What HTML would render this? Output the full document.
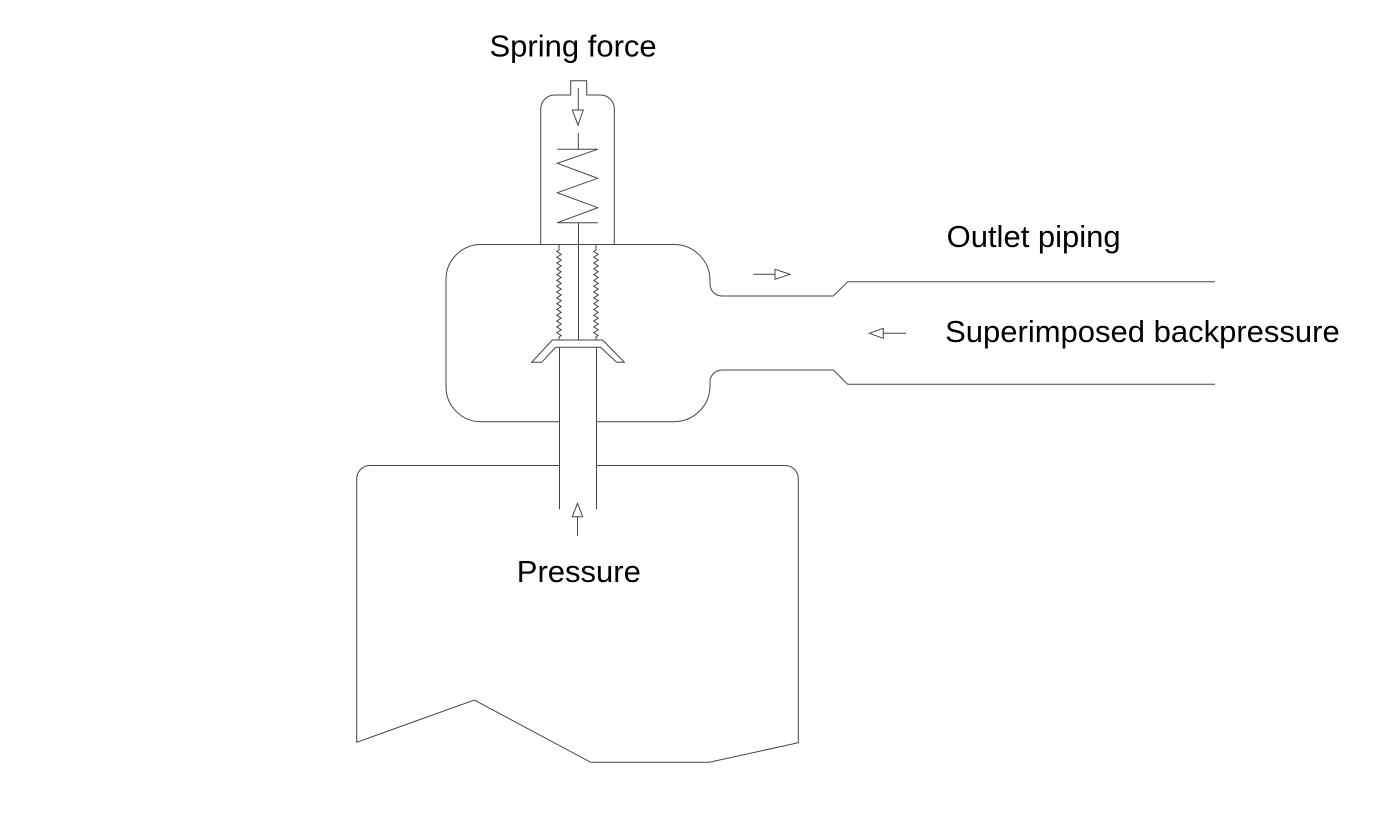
<!DOCTYPE html>
<html>
<head>
<meta charset="utf-8">
<style>
  html,body{margin:0;padding:0;background:#fff;}
  svg{display:block;}
  text{font-family:"Liberation Sans",Arial,sans-serif;font-size:31px;fill:#000;}
</style>
</head>
<body>
<svg width="1384" height="818" viewBox="0 0 1384 818" xmlns="http://www.w3.org/2000/svg">
  <g fill="none" stroke="#444" stroke-width="1">
    <!-- Bonnet -->
    <path d="M540.7,244.5 L540.7,109 A14,14 0 0 1 554.7,95 L570.7,95 L570.7,80.7 L586.7,80.7 L586.7,95 L600.3,95 A14,14 0 0 1 614.3,109 L614.3,244.5"/>
    <!-- spring force arrow -->
    <line x1="578.3" y1="88" x2="578.3" y2="110"/>
    <polygon points="572.3,110 583.3,110 578,125"/>
    <line x1="578.3" y1="133" x2="578.3" y2="149.3"/>
    <!-- spring -->
    <line x1="557.3" y1="149.3" x2="597.7" y2="149.3"/>
    <polyline points="597.7,149.3 557.3,163.3 597.7,178.3 557.3,192.7 597.7,207.7 557.3,222.7"/>
    <line x1="557.3" y1="222.7" x2="597.7" y2="222.7"/>
    <!-- center stem -->
    <line x1="578.5" y1="222.7" x2="578.5" y2="340"/>

    <!-- Body -->
    <path d="M481,244.5 L674,244.5 A36,36 0 0 1 710,280.5 L710,284 A12,12 0 0 0 722,296 L833.3,296 L847.7,281.7 L1215,281.7"/>
    <path d="M1215,384.3 L847.7,384.3 L833.3,370 L722,370 A12,12 0 0 0 710,382 L710,385.7 A36,36 0 0 1 674,421.7 L596.5,421.7"/>
    <path d="M559.5,421.7 L481,421.7 A35,35 0 0 1 446,386.7 L446,279.5 A35,35 0 0 1 481,244.5"/>

    <!-- bellows -->
    <path d="M559,245 L559,250 l-2.2,1.45 l4.4,2.9 l-4.4,2.9 l4.4,2.9 l-4.4,2.9 l4.4,2.9 l-4.4,2.9 l4.4,2.9 l-4.4,2.9 l4.4,2.9 l-4.4,2.9 l4.4,2.9 l-4.4,2.9 l4.4,2.9 l-4.4,2.9 l4.4,2.9 l-4.4,2.9 l4.4,2.9 l-4.4,2.9 l4.4,2.9 l-4.4,2.9 l4.4,2.9 l-4.4,2.9 l4.4,2.9 l-4.4,2.9 l4.4,2.9 l-4.4,2.9 l4.4,2.9 l-4.4,2.9 l4.4,2.9 l-2.2,1.45 L559,340"/>
    <path d="M596,245 L596,250 l-2.2,1.45 l4.4,2.9 l-4.4,2.9 l4.4,2.9 l-4.4,2.9 l4.4,2.9 l-4.4,2.9 l4.4,2.9 l-4.4,2.9 l4.4,2.9 l-4.4,2.9 l4.4,2.9 l-4.4,2.9 l4.4,2.9 l-4.4,2.9 l4.4,2.9 l-4.4,2.9 l4.4,2.9 l-4.4,2.9 l4.4,2.9 l-4.4,2.9 l4.4,2.9 l-4.4,2.9 l4.4,2.9 l-4.4,2.9 l4.4,2.9 l-4.4,2.9 l4.4,2.9 l-4.4,2.9 l4.4,2.9 l-2.2,1.45 L596,340"/>

    <!-- disc -->
    <polygon points="552.3,340 531.7,362.3 541.7,362.3 555.7,347.3 600.5,347.3 616.7,362.3 624.3,362.3 602.7,340"/>

    <!-- lower stem -->
    <line x1="559.5" y1="347.3" x2="559.5" y2="509.3"/>
    <line x1="596.5" y1="347.3" x2="596.5" y2="509.3"/>

    <!-- outlet arrow -->
    <line x1="753.3" y1="274.3" x2="775" y2="274.3"/>
    <polygon points="775,269.3 775,279.3 790,274.3"/>
    <!-- backpressure arrow -->
    <polygon points="869.3,333.3 883.3,328.3 883.3,338.3"/>
    <line x1="883.3" y1="333.3" x2="906" y2="333.3"/>

    <!-- Tank -->
    <path d="M559.5,465.5 L370,465.5 A13.3,13.3 0 0 0 356.7,478.8 L356.7,742.3 L474.3,700 L590.7,762.3 L709.3,762.3 L798.3,742.7 L798.3,478.8 A13.3,13.3 0 0 0 785,465.5 L596.5,465.5"/>

    <!-- pressure arrow -->
    <polygon points="577.5,503.3 572.3,516.7 582.7,516.7"/>
    <line x1="577.5" y1="516.7" x2="577.5" y2="536"/>
  </g>

  <text x="489.5" y="56.5">Spring force</text>
  <text x="946.6" y="247">Outlet piping</text>
  <text x="945.1" y="342">Superimposed backpressure</text>
  <text x="516.8" y="582">Pressure</text>
</svg>
</body>
</html>
